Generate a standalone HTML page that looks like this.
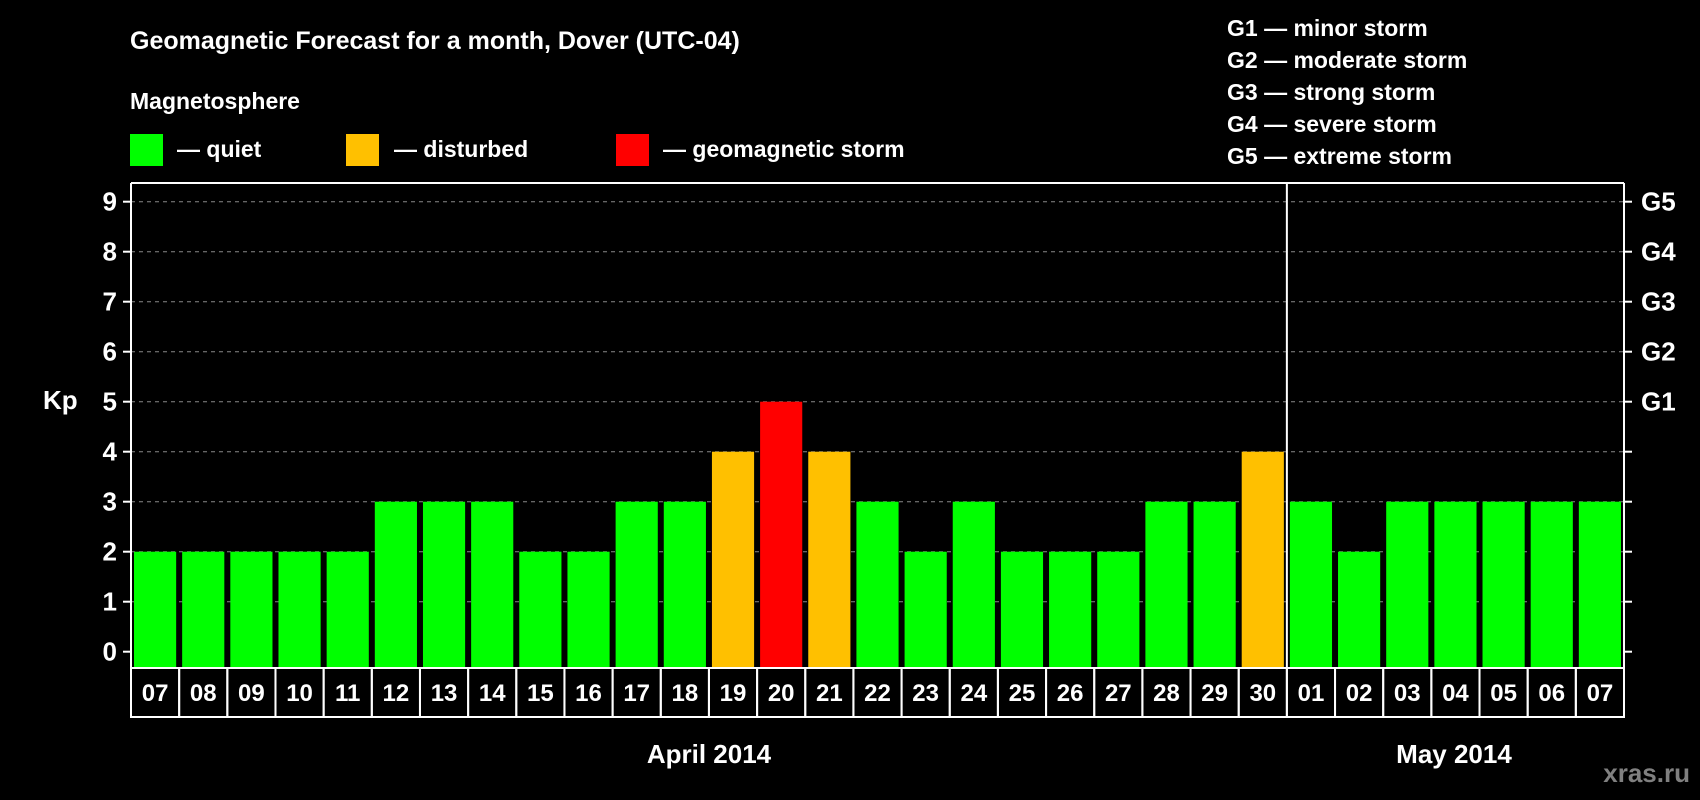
<!DOCTYPE html>
<html><head><meta charset="utf-8"><style>
html,body{margin:0;padding:0;background:#000;width:1700px;height:800px;overflow:hidden}
svg text{font-family:"Liberation Sans",Arial,sans-serif;font-weight:bold;fill:#fff}
</style></head><body>
<svg id="chart" width="1700" height="800" xmlns="http://www.w3.org/2000/svg">
<text x="130" y="49" font-size="25">Geomagnetic Forecast for a month, Dover (UTC-04)</text>
<text x="130" y="109" font-size="23">Magnetosphere</text>
<g><rect x="130" y="134" width="33" height="32" fill="#00ff00"/><text x="177" y="157" font-size="23">— quiet</text></g>
<g><rect x="346" y="134" width="33" height="32" fill="#ffc000"/><text x="394" y="157" font-size="23">— disturbed</text></g>
<g><rect x="616" y="134" width="33" height="32" fill="#ff0000"/><text x="663" y="157" font-size="23">— geomagnetic storm</text></g>
<g font-size="23">
<text x="1227" y="36">G1 — minor storm</text>
<text x="1227" y="68">G2 — moderate storm</text>
<text x="1227" y="100">G3 — strong storm</text>
<text x="1227" y="132">G4 — severe storm</text>
<text x="1227" y="164">G5 — extreme storm</text>
</g>
<text x="43" y="409" font-size="26">Kp</text>
<g id="plot"></g>
<text x="709" y="763" font-size="26" text-anchor="middle">April 2014</text>
<text x="1454" y="763" font-size="26" text-anchor="middle">May 2014</text>
<text x="1690" y="782" font-size="26" text-anchor="end" style="fill:#808080">xras.ru</text>
</svg>
<script>
const days=["07","08","09","10","11","12","13","14","15","16","17","18","19","20","21","22","23","24","25","26","27","28","29","30","01","02","03","04","05","06","07"];
const kp=[2,2,2,2,2,3,3,3,2,2,3,3,4,5,4,3,2,3,2,2,2,3,3,4,3,2,3,3,3,3,3];
const yTicks=[0,1,2,3,4,5,6,7,8,9];
const gLabels={5:"G1",6:"G2",7:"G3",8:"G4",9:"G5"};
const monthBreak=24;
const NS="http://www.w3.org/2000/svg";
const L=131,R=1624,T=183,B=668,Y0=651.7,U=50;
const cw=(R-L)/days.length;
const y=v=>Y0-v*U;
const x=i=>L+i*cw;
const g=document.getElementById('plot');
function mk(t,a){const e=document.createElementNS(NS,t);for(const k in a)e.setAttribute(k,a[k]);g.appendChild(e);return e;}
yTicks.forEach(v=>{
 if(v>0){const gl=mk('line',{x1:L,x2:R,y1:y(v),y2:y(v),stroke:'#888','stroke-dasharray':'4,4'});
 
 }
 mk('line',{x1:L-8,x2:L,y1:y(v),y2:y(v),stroke:'#fff','stroke-width':2});
 mk('line',{x1:R,x2:R+8,y1:y(v),y2:y(v),stroke:'#fff','stroke-width':2});
 const t=mk('text',{x:L-14,y:y(v)+9,'font-size':26,'text-anchor':'end'});t.textContent=v;
 
 
 if(gLabels[v]){const r=mk('text',{x:R+17,y:y(v)+9,'font-size':26});r.textContent=gLabels[v];
 
 }
});
kp.forEach((v,i)=>{
 const c=v>=5?'#ff0000':(v>=4?'#ffc000':'#00ff00');
 const b=mk('rect',{x:x(i)+3,y:y(v),width:cw-6,height:v*U+(B-Y0),fill:c});
 
 
 const cell=mk('rect',{x:x(i),y:B,width:cw,height:49,fill:'none',stroke:'#fff','stroke-width':2});
 
 
 const t=mk('text',{x:x(i)+cw/2,y:B+33,'font-size':24,'text-anchor':'middle'});t.textContent=days[i];
 
 
});
mk('line',{x1:L,x2:R,y1:T,y2:T,stroke:'#fff','stroke-width':2});
mk('line',{x1:L,x2:L,y1:T,y2:B,stroke:'#fff','stroke-width':2});
mk('line',{x1:R,x2:R,y1:T,y2:B,stroke:'#fff','stroke-width':2});
const s=mk('line',{x1:x(monthBreak),x2:x(monthBreak),y1:T,y2:B,stroke:'#fff','stroke-width':2});


</script>
</body></html>
